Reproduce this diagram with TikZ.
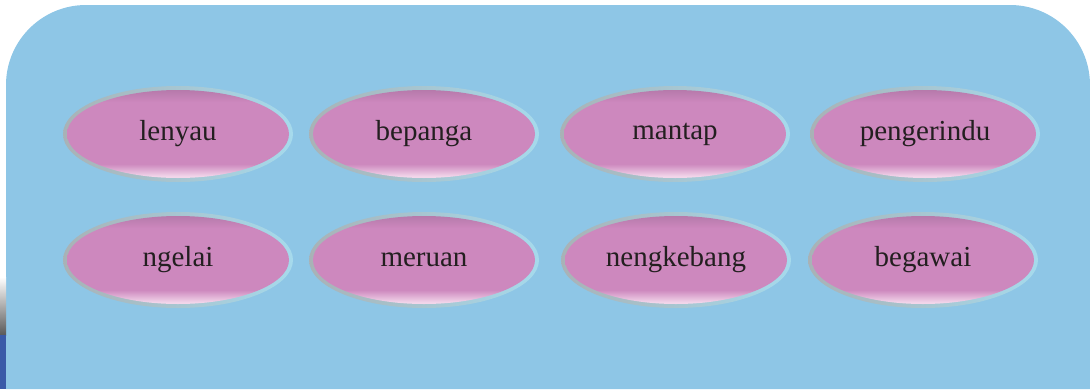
\documentclass[tikz,border=0pt]{standalone}
\usepackage{fontspec}
\setmainfont{Liberation Serif}
\usetikzlibrary{shapes.geometric,backgrounds}

\definecolor{bgblue}{HTML}{8EC6E6}
\definecolor{stripblue}{HTML}{3A5AA8}
\definecolor{pinkmid}{HTML}{CD88BE}
\definecolor{pinkdark}{HTML}{B67AAB}
\definecolor{pinklight}{HTML}{F2D6EA}
\definecolor{ringgray}{HTML}{A8B2B6}
\definecolor{ringcyan}{HTML}{A6DAEC}
\definecolor{wordink}{HTML}{231F20}

\pgfdeclareverticalshading{pillshade}{100bp}{color(0bp)=(pinklight); color(26bp)=(pinklight); color(33bp)=(pinkmid); color(68bp)=(pinkmid); color(75bp)=(pinkdark); color(100bp)=(pinkdark)}

\tikzset{
  pill/.style={ellipse, shading=pillshade, inner sep=0pt,
    minimum width=222pt, minimum height=88pt,
    text=wordink, font=\fontsize{29}{32}\selectfont},
  ring/.style={left color=ringgray, right color=ringcyan}
}

\begin{document}
\begin{tikzpicture}[x=1pt,y=-1pt]
  \useasboundingbox (0,0) rectangle (1090,389);

  % first row
  \node[pill] (lenyau)     at (178,134) {lenyau};
  \node[pill] (bepanga)    at (424,134) {bepanga};
  \node[pill] (mantap)     at (675,134) {mantap};
  \node[pill] (pengerindu) at (925,134) {pengerindu};
  % second row
  \node[pill] (ngelai)     at (178,260) {ngelai};
  \node[pill] (meruan)     at (424,260) {meruan};
  \node[pill] (nengkebang) at (676,260) {nengkebang};
  \node[pill] (begawai)    at (923,260) {begawai};

  \begin{scope}[on background layer]
    \fill[bgblue, rounded corners=80pt] (6,389) -- (6,5) -- (1090,5) -- (1090,389);
    \shade[top color=white, bottom color=black!65] (0,277) rectangle (6,335);
    \fill[stripblue] (0,335) rectangle (6,389);
    \foreach \n in {lenyau,bepanga,mantap,pengerindu,ngelai,meruan,nengkebang,begawai}
      \shade[ring] (\n.center) ellipse [x radius=115pt, y radius=48pt];
  \end{scope}
\end{tikzpicture}
\end{document}
